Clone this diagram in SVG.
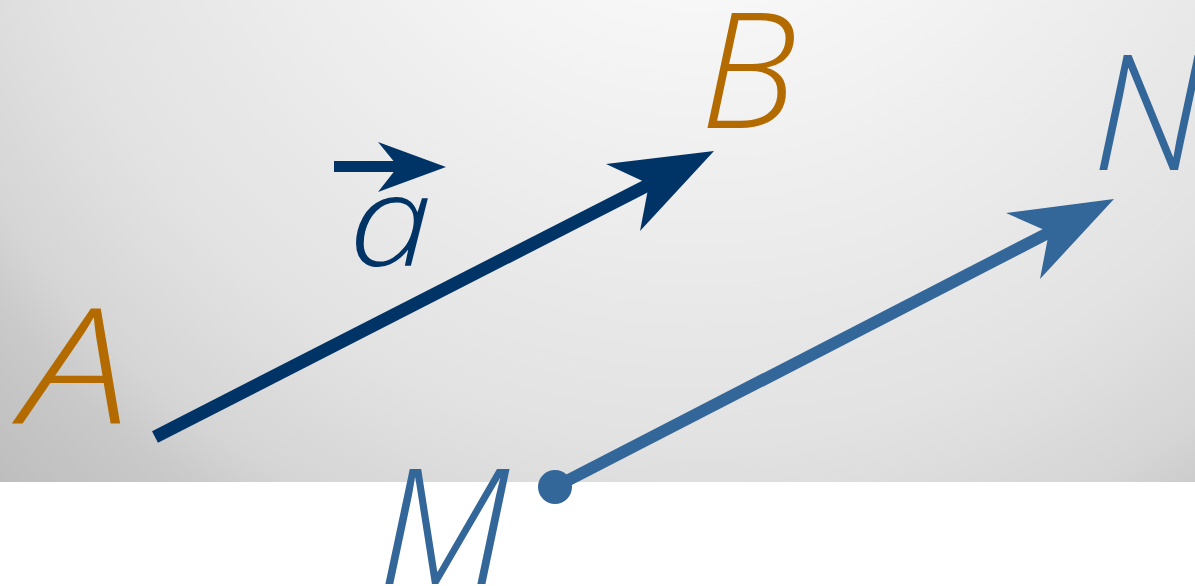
<svg xmlns="http://www.w3.org/2000/svg" width="1195" height="586" viewBox="0 0 1195 586">
<defs>
<radialGradient id="bg" gradientUnits="userSpaceOnUse" cx="700" cy="-250" r="1020">
<stop offset="0" stop-color="#fbfbfb"/>
<stop offset="0.245" stop-color="#f7f7f7"/>
<stop offset="0.68" stop-color="#e2e2e2"/>
<stop offset="0.82" stop-color="#d5d5d5"/>
<stop offset="0.88" stop-color="#c9c9c9"/>
<stop offset="1" stop-color="#bdbdbd"/>
</radialGradient>
<style>
.lbl{font-family:"Open Sans","Liberation Sans",sans-serif;font-style:italic;font-weight:350;font-size:161px}
.orange{fill:#b36b00}
.blue{fill:#336699}
.navy{fill:#003366}
</style>
</defs>
<rect x="0" y="0" width="1195" height="586" fill="#ffffff"/>
<rect x="0" y="0" width="1195" height="482" fill="url(#bg)"/>
<g id="connectors">
<g id="vec-AB">
<line x1="155" y1="437" x2="652" y2="183" stroke="#003366" stroke-width="13"/>
<polygon points="714,151 606,164 649,184 640,231" fill="#003366"/>
</g>
<g id="vec-MN">
<line x1="555" y1="487" x2="1052" y2="231" stroke="#336699" stroke-width="12"/>
<polygon points="1114,199 1006,213 1049,232 1040,279" fill="#336699"/>
<circle cx="555" cy="487" r="17" fill="#336699"/>
</g>
</g>
<g id="node-A"><text class="lbl orange" transform="translate(22,424) scale(1.21,1)" x="0" y="0">A</text></g>
<g id="node-B"><text class="lbl orange" x="700" y="128">B</text></g>
<g id="node-M"><text class="lbl blue" x="378" y="584">M</text></g>
<g id="node-N"><text class="lbl blue" x="1092" y="170">N</text></g>
<g id="label-a">
<line x1="334" y1="166.5" x2="400" y2="166.5" stroke="#003366" stroke-width="11"/>
<polygon points="446,167 378,142 398,166.5 378,192" fill="#003366"/>
<text class="lbl navy" transform="translate(348.5,266) scale(1.18,1)" x="0" y="0" style="font-size:128px">a</text>
</g>
</svg>
